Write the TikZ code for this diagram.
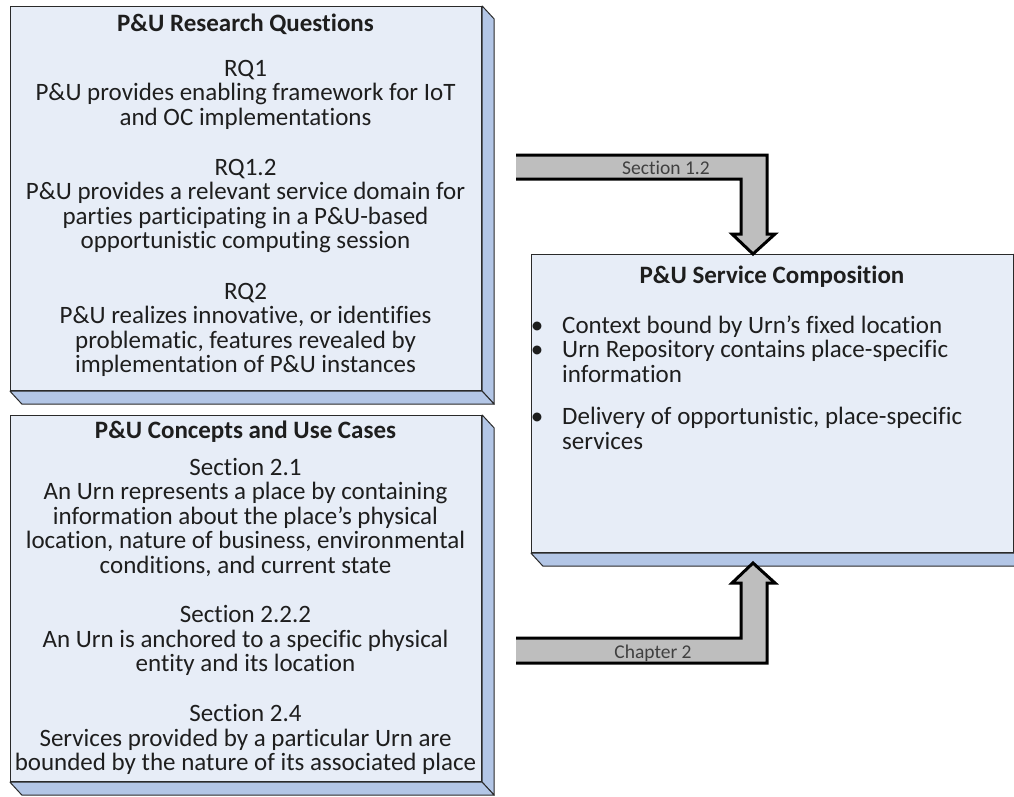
\documentclass[tikz,border=0pt]{standalone}
\usepackage{fontspec}
\setmainfont{Carlito}[Ligatures={NoCommon}]
\definecolor{face}{HTML}{E7EDF7}
\definecolor{bevel}{HTML}{B3C6E6}
\definecolor{edge}{HTML}{2A2A2A}
\definecolor{ink}{HTML}{1E1E1E}
\definecolor{shaft}{HTML}{BEBEBE}
\tikzset{
  panel/.style={draw=edge, line width=1.2pt, fill=face, rectangle, inner sep=0pt, anchor=north west},
  bevelside/.style={draw=edge, line width=1pt, fill=bevel, line join=round},
  txtline/.style={font=\fontsize{25}{25}\selectfont, text=ink, anchor=base, inner sep=0pt},
  headline/.style={txtline, font=\fontsize{25}{25}\selectfont\bfseries},
  flowedge/.style={draw=black, line width=3pt, line join=miter, miter limit=20},
  flowbody/.style={fill=shaft},
  flowtag/.style={font=\fontsize{19.5}{20}\selectfont, text=ink!85, inner sep=0pt, anchor=base}
}
% raised edge along the right and bottom of a panel
\newcommand\panelbevel[1]{%
  \draw[bevelside] (#1.north east) -- ([shift={(12,13)}]#1.north east)
     -- ([shift={(12,13)}]#1.south east) -- (#1.south east) -- cycle;
  \draw[bevelside] (#1.south west) -- (#1.south east)
     -- ([shift={(12,13)}]#1.south east) -- ([shift={(12,13)}]#1.south west) -- cycle;
}
\begin{document}
\begin{tikzpicture}[x=1pt,y=-1pt]
\path[use as bounding box] (0,0) rectangle (1014,796);
\clip (0,0) rectangle (1014,796);

% ---- panels ----
\node[panel, minimum width=471pt, minimum height=384pt] (rq) at (10,6) {};
\panelbevel{rq}
\node[panel, minimum width=471pt, minimum height=366pt] (uc) at (10,415) {};
\panelbevel{uc}
\node[panel, minimum width=482pt, minimum height=298pt] (sc) at (531,254) {};
\panelbevel{sc}

% ---- research questions ----
\node[headline] (rqtitle) at (245.5,23+8) {P\&U Research Questions};
\foreach \yy/\txt [count=\i] in {
  68/{RQ1},
  92.5/{P\&U provides enabling framework for IoT},
  117/{and OC implementations},
  167/{RQ1.2},
  191.5/{P\&U provides a relevant service domain for},
  216/{parties participating in a P\&U-based},
  240.5/{opportunistic computing session},
  291/{RQ2},
  315.5/{P\&U realizes innovative, or identifies},
  340/{problematic, features revealed by},
  364.5/{implementation of P\&U instances}}
  \node[txtline] (rqline\i) at (245.5,\yy+8) {\txt};

% ---- concepts and use cases ----
\node[headline] (uctitle) at (245.5,430+8) {P\&U Concepts and Use Cases};
\foreach \yy/\txt [count=\i] in {
  467/{Section 2.1},
  491.5/{An Urn represents a place by containing},
  516/{information about the place’s physical},
  540.5/{location, nature of business, environmental},
  565/{conditions, and current state},
  614.5/{Section 2.2.2},
  639/{An Urn is anchored to a specific physical},
  663.5/{entity and its location},
  713.5/{Section 2.4},
  738/{Services provided by a particular Urn are},
  762/{bounded by the nature of its associated place}}
  \node[txtline] (ucline\i) at (245.5,\yy+8) {\txt};

% ---- service composition ----
\node[headline] (sctitle) at (772,275+8) {P\&U Service Composition};
\foreach \yy/\txt [count=\i] in {
  325/{Context bound by Urn’s fixed location},
  349.5/{Urn Repository contains place-specific},
  416/{Delivery of opportunistic, place-specific}}
  {
  \node[txtline] (scdot\i) at (537,\yy+8) {\textbullet};
  \node[txtline, anchor=base west] (scitem\i) at (562,\yy+8) {\txt};
  }
\node[txtline, anchor=base west] (sccont1) at (562,374+8) {information};
\node[txtline, anchor=base west] (sccont2) at (562,441+8) {services};

% ---- block arrows ----
\coordinate (tipA) at (753,254);
\coordinate (tipB) at (753,563);
\path[flowbody] (516,155) -- (767,155) -- (767,234) -- (775,234) -- (tipA)
  -- (732,234) -- (741,234) -- (741,179) -- (516,179) -- cycle;
\draw[flowedge] (516,155) -- (767,155) -- (767,234) -- (775,234) -- (tipA)
  -- (732,234) -- (741,234) -- (741,179) -- (516,179);
\node[flowtag] (tagA) at (666,174) {Section 1.2};

\path[flowbody] (516,663) -- (767,663) -- (767,583) -- (775,583) -- (tipB)
  -- (732,583) -- (741,583) -- (741,638) -- (516,638) -- cycle;
\draw[flowedge] (516,663) -- (767,663) -- (767,583) -- (775,583) -- (tipB)
  -- (732,583) -- (741,583) -- (741,638) -- (516,638);
\node[flowtag] (tagB) at (653,658) {Chapter 2};
\end{tikzpicture}
\end{document}
